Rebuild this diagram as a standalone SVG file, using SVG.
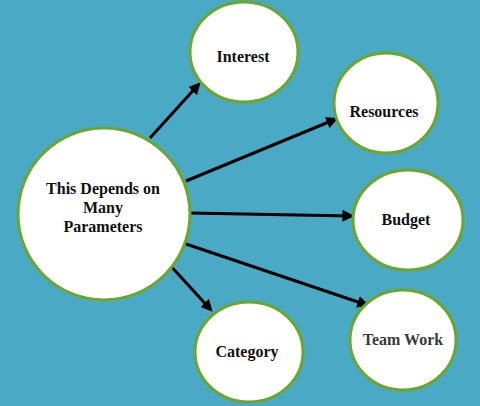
<svg xmlns="http://www.w3.org/2000/svg" width="480" height="406" viewBox="0 0 480 406">
<style>
.node{fill:#fff;stroke:#6aa72c;stroke-width:3}
.lbl{font-family:"Liberation Serif","Times New Roman","DejaVu Serif",serif;font-weight:bold;font-size:16px;fill:#111;text-anchor:middle}
.edge{stroke:#000;stroke-width:3;fill:none;marker-end:url(#ah)}
</style>
<defs>
<marker id="ah" viewBox="0 0 10 10" refX="8" refY="5" markerWidth="4" markerHeight="4" orient="auto" markerUnits="strokeWidth">
<path d="M0,0 L10,5 L0,10 z" fill="#000"/>
</marker>
</defs>
<rect width="480" height="406" fill="#4aaac5"/>
<g id="connectors">
<line class="edge" x1="150" y1="138" x2="199" y2="84"/>
<line class="edge" x1="186" y1="181" x2="336" y2="119"/>
<line class="edge" x1="189" y1="213" x2="352" y2="216"/>
<line class="edge" x1="183" y1="243" x2="367" y2="305"/>
<line class="edge" x1="168" y1="263" x2="211" y2="310"/>
</g>
<g id="main">
<ellipse class="node" cx="104" cy="214" rx="86" ry="86"/>
<text class="lbl" x="103" y="194">This Depends on</text>
<text class="lbl" x="103" y="213">Many</text>
<text class="lbl" x="103" y="232">Parameters</text>
</g>
<g id="interest">
<ellipse class="node" cx="244" cy="52" rx="54" ry="50"/>
<text class="lbl" x="243" y="62">Interest</text>
</g>
<g id="resources">
<ellipse class="node" cx="386" cy="103" rx="52" ry="50"/>
<text class="lbl" x="384" y="117">Resources</text>
</g>
<g id="budget">
<ellipse class="node" cx="408" cy="220" rx="55" ry="50"/>
<text class="lbl" x="406" y="225">Budget</text>
</g>
<g id="category">
<ellipse class="node" cx="249" cy="352" rx="54" ry="50"/>
<text class="lbl" x="247" y="357">Category</text>
</g>
<g id="teamwork">
<ellipse class="node" cx="403" cy="340" rx="53" ry="50"/>
<text class="lbl" x="403" y="345" style="fill:#3a3a3a">Team Work</text>
</g>
</svg>
